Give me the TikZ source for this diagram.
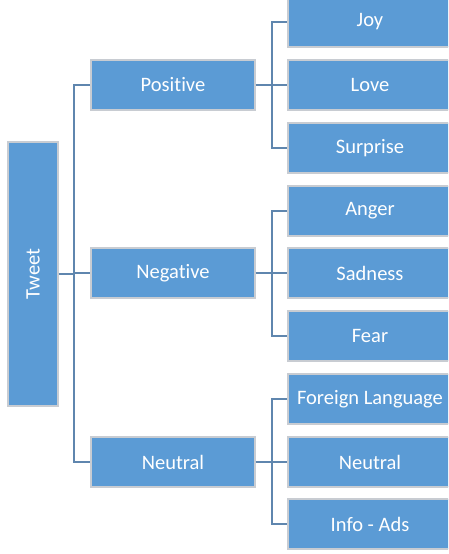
\documentclass[tikz,border=0pt]{standalone}
\usepackage{fontspec}
\setmainfont{Carlito}[Ligatures=NoCommon]
\definecolor{boxfill}{HTML}{5B9BD5}
\definecolor{boxline}{HTML}{C8CCD2}
\definecolor{conn}{HTML}{5F86AE}
\begin{document}
\begin{tikzpicture}[x=1pt,y=-1pt,
  box/.style={draw=boxline,line width=1.3pt,fill=boxfill,text=white,font=\fontsize{20.5}{22}\selectfont,minimum width=164pt,minimum height=50pt,inner sep=0pt},
  root/.style={box,minimum width=50pt,minimum height=264pt},
  link/.style={draw=conn,line width=1.3pt}]
\useasboundingbox (0,0) rectangle (448,554);
\clip (0,0) rectangle (448,554);
\node[root] (tweet) at (33,274) {\rotatebox{90}{Tweet}};
\node[box] (pos) at (173,85) {Positive};
\node[box] (neg) at (173,273) {Negative};
\node[box] (neu) at (173,462) {Neutral};
\node[box] (joy) at (370,22) {Joy};
\node[box] (love) at (370,85) {Love};
\node[box] (sur) at (370,148) {Surprise};
\node[box] (ang) at (370,211) {Anger};
\node[box] (sad) at (370,273) {Sadness};
\node[box] (fear) at (370,336) {Fear};
\node[box] (for) at (370,399) {Foreign Language};
\node[box] (neut) at (370,462) {Neutral};
\node[box] (info) at (370,524) {Info - Ads};
\coordinate (j0) at (74,274);
\coordinate (j1) at (272,85);
\coordinate (j2) at (272,273);
\coordinate (j3) at (272,462);
\draw[link] (tweet.east) -- (j0);
\draw[link] (j0) |- (pos.west);
\draw[link] (j0) |- (neg.west);
\draw[link] (j0) |- (neu.west);
\draw[link] (pos.east) -- (j1);
\draw[link] (j1) |- (joy.west);
\draw[link] (j1) -- (love.west);
\draw[link] (j1) |- (sur.west);
\draw[link] (neg.east) -- (j2);
\draw[link] (j2) |- (ang.west);
\draw[link] (j2) -- (sad.west);
\draw[link] (j2) |- (fear.west);
\draw[link] (neu.east) -- (j3);
\draw[link] (j3) |- (for.west);
\draw[link] (j3) -- (neut.west);
\draw[link] (j3) |- (info.west);
\end{tikzpicture}
\end{document}
